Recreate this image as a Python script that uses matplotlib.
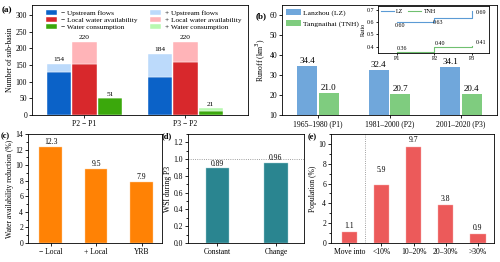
import matplotlib
matplotlib.use("Agg")
from matplotlib import pyplot as plt
from matplotlib.ticker import MultipleLocator
import numpy as np

plt.rcParams['font.family'] = ['Liberation Serif', 'DejaVu Serif']
plt.rcParams['font.size'] = 5.5
plt.rcParams['axes.linewidth'] = 0.6
plt.rcParams['xtick.major.width'] = 0.6
plt.rcParams['ytick.major.width'] = 0.6
plt.rcParams['xtick.major.size'] = 2
plt.rcParams['ytick.major.size'] = 2
plt.rcParams['ytick.minor.size'] = 1.2
plt.rcParams['xtick.major.pad'] = 1.5
plt.rcParams['ytick.major.pad'] = 1.5

# (a) sub-basin counts
a_groups = ["P2 \u2212 P1", "P3 \u2212 P2"]
a_up_neg = [128, 115]
a_up_tot = [154, 184]
a_loc_neg = [152, 160]
a_loc_tot = [220, 220]
a_con_neg = [51, 12]
a_con_tot = [51, 21]

# (b) runoff
b_periods = ["1965\u20131980 (P1)", "1981\u20132000 (P2)", "2001\u20132020 (P3)"]
b_lz = [34.4, 32.4, 34.1]
b_tnh = [21.0, 20.7, 20.4]
ratio_x = ["P1", "P2", "P3"]
ratio_lz = [0.60, 0.63, 0.69]
ratio_tnh = [0.36, 0.40, 0.41]

# (c) water availability reduction
c_cats = ["\u2212 Local", "+ Local", "YRB"]
c_vals = [12.3, 9.5, 7.9]

# (d) WSI
d_cats = ["Constant", "Change"]
d_vals = [0.89, 0.96]

# (e) population
e_cats = ["Move into", "<10%", "10\u201320%", "20\u201330%", ">30%"]
e_vals = [1.1, 5.9, 9.7, 3.8, 0.9]
e_lab_off = [0.25, 1.1, 0.25, 0.25, 0.25]

fig = plt.figure(figsize=(5, 2.62), dpi=100)

# ---- (a)
ax = fig.add_axes([0.064, 0.561, 0.432, 0.42])
x = np.arange(len(a_groups))
w = 0.24
step = 0.25
cols = [('#0b62c8', '#bcdafb'), ('#d8282c', '#ffb4b8'), ('#3ba80c', '#b8f8b0')]
names = ["Upstream flows", "Local water availability", "Water consumption"]
data = [(a_up_neg, a_up_tot), (a_loc_neg, a_loc_tot), (a_con_neg, a_con_tot)]
handles = []
for k, ((neg, tot), (dc, lc)) in enumerate(zip(data, cols)):
    xs = x + (k - 1) * step
    neg = np.array(neg); tot = np.array(tot)
    h1 = ax.bar(xs, neg, w, color=dc, edgecolor='white', lw=0.3)
    h2 = ax.bar(xs, tot - neg, w, bottom=neg, color=lc, edgecolor='white', lw=0.3)
    for xi, t in zip(xs, tot):
        ax.text(xi, t + 4, f"{t}", ha='center', va='bottom', fontsize=5.3)
    handles.append((h1, h2))
leg_h = [h[0] for h in handles] + [h[1] for h in handles]
leg_l = ["\u2212 " + n for n in names] + ["+ " + n for n in names]
ax.legend(leg_h, leg_l, ncol=2, loc='upper left', bbox_to_anchor=(0.04, 1.0),
          frameon=False, fontsize=5.3, handlelength=1.5, handleheight=0.7,
          columnspacing=1.6, labelspacing=0.12, borderaxespad=0.3, handletextpad=0.6)
ax.set_xticks(x)
ax.set_xticklabels(a_groups)
ax.set_xlim(-0.52, 1.62)
ax.set_ylim(0, 330)
ax.set_yticks(range(0, 301, 50))
ax.set_ylabel("Number of sub-basin", labelpad=1)
fig.text(0.004, 0.975, "(a)", fontweight='bold', fontsize=6.5, va='top')

# ---- (b)
ax = fig.add_axes([0.564, 0.561, 0.43, 0.42])
x = np.arange(len(b_periods))
w = 0.28
b1 = ax.bar(x - w / 2 - 0.01, b_lz, w, color='#70a7db', label="Lanzhou (LZ)")
b2 = ax.bar(x + w / 2 + 0.01, b_tnh, w, color='#7fcc7f', label="Tangnaihai (TNH)")
for xi, v in zip(x - w / 2 - 0.01, b_lz):
    ax.text(xi, v + 0.4, f"{v:.1f}", ha='center', va='bottom', fontsize=6.5)
for xi, v in zip(x + w / 2 + 0.01, b_tnh):
    ax.text(xi, v + 0.4, f"{v:.1f}", ha='center', va='bottom', fontsize=6.5)
ax.set_xticks(x)
ax.set_xticklabels(b_periods)
ax.set_xlim(-0.5, 2.5)
ax.set_ylim(10, 65)
ax.set_yticks(range(10, 61, 10))
ax.set_ylabel("Runoff (km$^3$)", labelpad=1)
ax.legend(loc='upper left', frameon=False, fontsize=5.4, handlelength=2.0,
          handleheight=0.85, labelspacing=0.55, borderaxespad=0.15, handletextpad=0.3)
fig.text(0.512, 0.955, "(b)", fontweight='bold', fontsize=6.5, va='top')

ins = fig.add_axes([0.756, 0.798, 0.222, 0.179])
xi = np.arange(len(ratio_x))
ins.plot(xi, ratio_lz, drawstyle='steps-post', color='#5b9bd5', lw=0.8, label="LZ")
ins.plot(xi, ratio_tnh, drawstyle='steps-post', color='#70c070', lw=0.8, label="TNH")
for k, v in enumerate(ratio_lz):
    if k < 2:
        ins.text(k - 0.05, v - 0.01, f"{v:.2f}", ha='left', va='top', fontsize=4.3)
    else:
        ins.text(k + 0.1, v - 0.015, f"{v:.2f}", ha='left', va='center', fontsize=4.3)
for k, v in enumerate(ratio_tnh):
    ins.text(k + (0.1 if k == 2 else 0.0), v + 0.006, f"{v:.2f}", ha='left', va='bottom', fontsize=4.3)
ins.set_xticks(xi)
ins.set_xticklabels(ratio_x)
ins.set_xlim(-0.5, 2.45)
ins.set_ylim(0.35, 0.73)
ins.set_yticks([0.4, 0.5, 0.6, 0.7])
ins.tick_params(labelsize=4.3, length=1.5, pad=1)
ins.set_ylabel("Ratio", fontsize=4.3, labelpad=0.5)
ins.legend(loc='upper left', ncol=2, frameon=False, fontsize=4.3, handlelength=2.2,
           columnspacing=0.8, borderaxespad=0.05, handletextpad=0.4)

# ---- (c)
ax = fig.add_axes([0.056, 0.0725, 0.268, 0.416])
x = np.arange(len(c_cats))
ax.bar(x, c_vals, 0.5, color='#ff8205', edgecolor='#ffd0a0', lw=0.3)
for xi, v in zip(x, c_vals):
    ax.text(xi, v + 0.1, f"{v}", ha='center', va='bottom', fontsize=5.5)
ax.set_xticks(x)
ax.set_xticklabels(c_cats)
ax.set_xlim(-0.5, 2.45)
ax.set_ylim(0, 14)
ax.set_yticks(range(0, 15, 2))
ax.yaxis.set_minor_locator(MultipleLocator(1))
ax.set_ylabel("Water availability reduction (%)", labelpad=1)
fig.text(0.002, 0.497, "(c)", fontweight='bold', fontsize=6, va='top')

# ---- (d)
ax = fig.add_axes([0.376, 0.0725, 0.232, 0.416])
x = np.arange(len(d_cats))
ax.bar(x, d_vals, 0.4, color='#2a8590', edgecolor='#a0d0d5', lw=0.3)
for xi, v in zip(x, d_vals):
    ax.text(xi, v + 0.005, f"{v:.2f}", ha='center', va='bottom', fontsize=5.5)
ax.axhline(1.0, color='gray', ls=':', lw=0.6)
ax.set_xticks(x)
ax.set_xticklabels(d_cats)
ax.set_xlim(-0.5, 1.48)
ax.set_ylim(0, 1.3)
ax.set_yticks(np.arange(0, 1.21, 0.2))
ax.yaxis.set_major_formatter(matplotlib.ticker.FormatStrFormatter('%.1f'))
ax.yaxis.set_minor_locator(MultipleLocator(0.1))
ax.set_ylabel("WSI during P3", labelpad=1)
fig.text(0.324, 0.497, "(d)", fontweight='bold', fontsize=6, va='top')

# ---- (e)
ax = fig.add_axes([0.662, 0.0725, 0.326, 0.416])
x = np.arange(len(e_cats))
ax.bar(x, e_vals, 0.48, color='#ec5a5a', edgecolor='#f8b0b0', lw=0.3)
for xi, v, o in zip(x, e_vals, e_lab_off):
    ax.text(xi, v + o, f"{v}", ha='center', va='bottom', fontsize=5.5)
ax.axvline(0.5, color='gray', ls=':', lw=0.6)
ax.set_xticks(x)
ax.set_xticklabels(e_cats)
ax.set_xlim(-0.57, 4.5)
ax.set_ylim(0, 11)
ax.set_yticks(range(0, 11, 2))
ax.yaxis.set_minor_locator(MultipleLocator(1))
ax.set_ylabel("Population (%)", labelpad=1)
fig.text(0.616, 0.49, "(e)", fontweight='bold', fontsize=6, va='top')

fig.savefig("out.png", dpi=100)
